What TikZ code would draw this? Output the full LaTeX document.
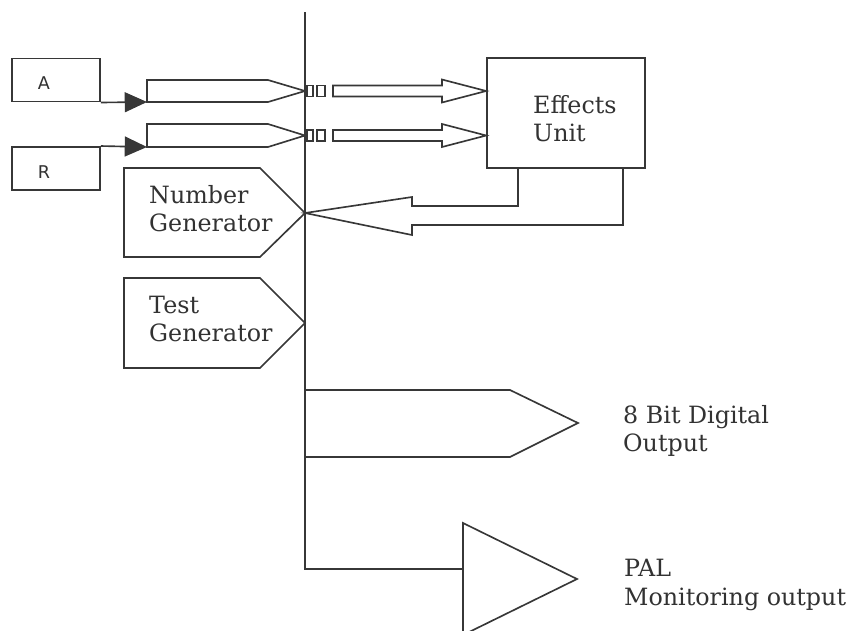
\documentclass[tikz,border=0pt]{standalone}
\usepackage{fontspec}
\setmainfont{DejaVu Serif}
\newfontfamily\chanfont{DejaVu Sans}
\usepackage{xcolor}
\usepackage{tikz}
\usetikzlibrary{arrows.meta,positioning}
\definecolor{inkgray}{RGB}{55, 55, 55}
\definecolor{textgray}{RGB}{50, 50, 50}

\tikzset{
    wire/.style={draw=inkgray, line width=1.4pt, line join=miter},
    chanbox/.style={wire, rectangle, minimum width=2.64cm, minimum height=1.3cm, inner sep=0pt},
    unitbox/.style={wire, rectangle, minimum width=4.74cm, minimum height=3.3cm, inner sep=0pt},
    blocktext/.style={font=\fontsize{20.3}{24}\selectfont, align=left, text=textgray, inner sep=0pt, anchor=west},
    chantext/.style={font=\chanfont\fontsize{15}{17}\selectfont, text=textgray, inner sep=0pt}
}

\begin{document}
\begin{tikzpicture}[x=0.03cm, y=-0.03cm, >={Triangle[length=19pt, width=17pt]}]
        \useasboundingbox (0,0) rectangle (850,630);

        % system bus
        \coordinate (busTop) at (305,12);
        \coordinate (busEnd) at (305,569);
        \coordinate (palIn) at (463,569);
        \draw[wire] (busTop) -- (busEnd) -- (palIn);

        % Effects Unit
        \node[unitbox] (fx) at (566,113) {};
        \node[blocktext] (fxtext) at (533,119) {Effects\\Unit};

        % 2 input channels: box, filled arrow, stub into the bus, link to the effects unit
        \foreach \name/\txt/\yy/\ty/\top/\bot/\anc in {boxA/A/80/83/80/102/south east, boxR/R/168.5/172/124/147/north east} {
            \node[chanbox] (\name) at (56,\yy) {};
            \node[chantext] (\name txt) at (44,\ty) {\txt};
            \coordinate (\name in) at (147,\bot);
            \draw[wire, ->] (\name.\anc) -- (\name in);
            \draw[wire] (\name in) -- (147,\top) -- (268,\top) -- (305,{(\top+\bot)/2}) -- (268,\bot) -- cycle;
            \draw[wire] (307,{(\top+\bot)/2-5.5}) rectangle (313,{(\top+\bot)/2+5.5});
            \draw[wire] (317,{(\top+\bot)/2-5.5}) rectangle (325,{(\top+\bot)/2+5.5});
            \draw[wire] (333,{(\top+\bot)/2-5.5}) -- (442,{(\top+\bot)/2-5.5}) -- (442,{(\top+\bot)/2-11.5})
                -- (fx.west |- 0,{(\top+\bot)/2}) -- (442,{(\top+\bot)/2+11.5}) -- (442,{(\top+\bot)/2+5.5})
                -- (333,{(\top+\bot)/2+5.5}) -- cycle;
        }

        % return path from the effects unit
        \draw[wire] (fx.south west -| 518,0) -- (518,206) -- (412,206) -- (412,197) -- (305,213)
            -- (412,235) -- (412,225) -- (623,225) -- (fx.south west -| 623,0);

        % generators
        \draw[wire] (124,168) -- (260,168) -- (305,213) -- (260,257) -- (124,257) -- cycle;
        \node[blocktext] (numgen) at (149,209) {Number\\Generator};
        \draw[wire] (124,278) -- (260,278) -- (305,323) -- (260,368) -- (124,368) -- cycle;
        \node[blocktext] (testgen) at (149,319) {Test\\Generator};

        % outputs
        \draw[wire] (305,390) -- (510,390) -- (578,423) -- (510,457) -- (305,457);
        \node[blocktext] (digout) at (623,431) {8 Bit Digital\\Output};
        \draw[wire] (palIn) -- (463,523) -- (577,579) -- (463,635) -- cycle;
        \node[blocktext] (palout) at (624,585) {PAL\\Monitoring output};
    \end{tikzpicture}
\end{document}
